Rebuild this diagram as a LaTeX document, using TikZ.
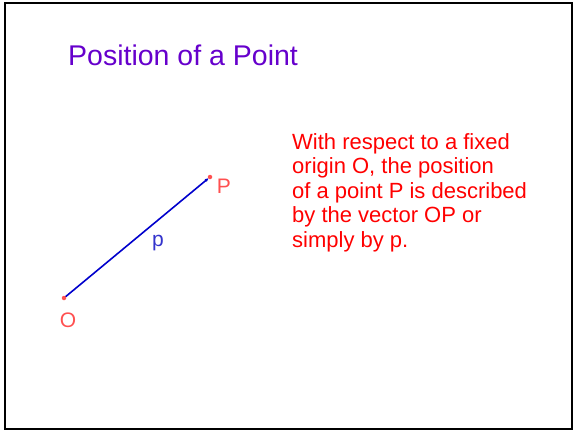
\documentclass[tikz,border=0pt]{standalone}
\usepackage{fontspec}
\setmainfont{Liberation Sans}
\usepackage{xcolor}
\usetikzlibrary{arrows.meta,positioning,backgrounds}
\definecolor{titlepurple}{RGB}{102,0,204}
\definecolor{ptred}{RGB}{255,80,80}
\definecolor{vecblue}{RGB}{0,0,204}
\definecolor{lblblue}{RGB}{51,51,204}
\begin{document}
\begin{tikzpicture}[
x=1pt,
y=-1pt,
every node/.style={inner sep=0pt},
heading/.style={font=\fontsize{28.5}{32}\selectfont,text=titlepurple,anchor=base west},
body/.style={font=\fontsize{22}{24.6}\selectfont,text=red,anchor=north west,align=left},
ptlbl/.style={font=\fontsize{21}{24}\selectfont,text=ptred},
pt/.style={circle,fill=ptred,minimum size=4.5pt},
vec/.style={vecblue,line width=1.6pt,shorten >=1.5pt,-{Latex[length=4pt,width=3.5pt]}}
]
\useasboundingbox (0,0) rectangle (574,431);
\draw[line width=2pt] (5,3) rectangle (572,429);
\node[heading] (title) at (68,65) {Position of a Point};
\node[body] (desc) at (292,133) {With respect to a fixed\\origin O, the position\\of a point P is described\\by the vector OP or\\simply by p.};
\node[pt] (o) at (64,298) {};
\node[pt] (p) at (210,177) {};
\node[ptlbl] (olbl) at (68,320) {O};
\node[ptlbl] (plbl) at (224,186) {P};
\begin{scope}[on background layer]
\draw[vec] (o.center) -- (p.center);
\end{scope}
\node[font=\fontsize{21}{24}\selectfont,text=lblblue] (plab) at (158,243) {p};
\end{tikzpicture}
\end{document}
